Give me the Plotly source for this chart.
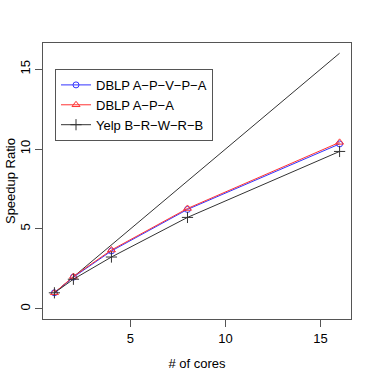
import plotly.graph_objects as go

cores = [1, 2, 4, 8, 16]
ideal = [1, 2, 4, 8, 16]
dblp_apvpa = [1.0, 1.98, 3.62, 6.22, 10.32]
dblp_apa = [1.0, 2.02, 3.68, 6.28, 10.42]
yelp_brwrb = [1.0, 1.85, 3.24, 5.72, 9.85]

FONT = "Liberation Sans, Arial, sans-serif"

fig = go.Figure()

# ideal linear speedup, not in the legend
fig.add_trace(go.Scatter(
    x=cores, y=ideal, mode="lines", showlegend=False,
    line=dict(color="#333333", width=1), hoverinfo="skip"))

fig.add_trace(go.Scatter(
    x=cores, y=dblp_apvpa, mode="lines+markers", name="DBLP A\u2212P\u2212V\u2212P\u2212A",
    line=dict(color="#3333ff", width=1),
    marker=dict(symbol="circle-open", size=6, color="#3333ff", line=dict(width=1))))

fig.add_trace(go.Scatter(
    x=cores, y=dblp_apa, mode="lines+markers", name="DBLP A\u2212P\u2212A",
    line=dict(color="#ff3333", width=1),
    marker=dict(symbol="triangle-up-open", size=7, color="#ff3333", line=dict(width=1))))

fig.add_trace(go.Scatter(
    x=cores, y=yelp_brwrb, mode="lines+markers", name="Yelp B\u2212R\u2212W\u2212R\u2212B",
    line=dict(color="#333333", width=1),
    marker=dict(symbol="cross-thin", size=8, color="#333333",
                line=dict(width=1, color="#333333"))))

axis_common = dict(
    showgrid=False, zeroline=False, showline=True, mirror=True, automargin=False,
    linecolor="#555555", linewidth=1, ticks="outside", ticklen=7,
    tickcolor="#555555", tickfont=dict(size=13, color="black", family=FONT))

fig.update_xaxes(range=[0.4, 16.6], tickvals=[5, 10, 15],
                 title=dict(text="# of cores", font=dict(size=13, family=FONT), standoff=14),
                 **axis_common)
fig.update_yaxes(range=[-0.64, 16.64], tickvals=[0, 5, 10, 15], tickangle=-90,
                 **axis_common)

# y title as an annotation so it sits clear of the rotated tick labels
fig.add_annotation(text="Speedup Ratio", xref="paper", yref="paper",
                   x=-0.107, y=0.5, xanchor="center", yanchor="middle",
                   textangle=-90, showarrow=False,
                   font=dict(size=13, family=FONT, color="black"))

fig.update_layout(
    width=374, height=374,
    margin=dict(l=43, r=23, t=43, b=55),
    plot_bgcolor="white", paper_bgcolor="white",
    font=dict(family=FONT, color="black"),
    legend=dict(x=0.039, y=0.906, xanchor="left", yanchor="top",
                bordercolor="#555555", borderwidth=1, bgcolor="white",
                font=dict(size=13, family=FONT), tracegroupgap=0,
                itemwidth=30),
    showlegend=True,
)

# drop the browser's default body margin so the figure fills the window
fig.write_html("out.html", config={"displayModeBar": False},
               post_script="document.body.style.margin = '0';")
